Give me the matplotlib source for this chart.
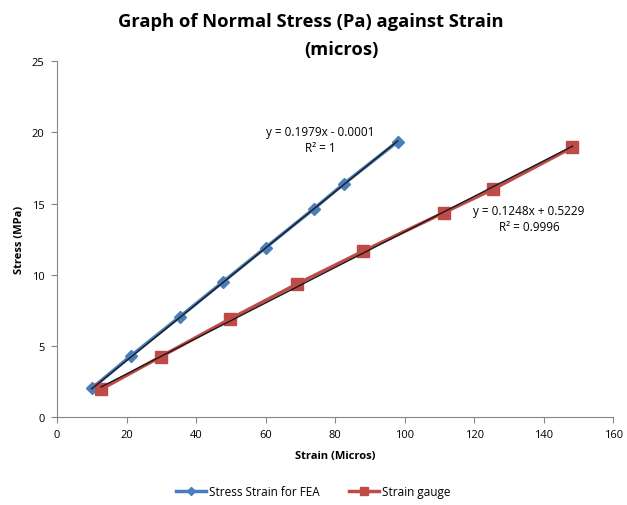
import matplotlib
matplotlib.use("Agg")
import matplotlib.pyplot as plt
import numpy as np

plt.rcParams['font.family'] = ['Open Sans', 'DejaVu Sans']

fea_x = [10, 21.3, 35.4, 47.8, 60, 74, 82.6, 98]
fea_y = [2.0, 4.3, 7.05, 9.5, 11.9, 14.65, 16.4, 19.35]
sg_x = [12.7, 29.8, 49.9, 69.1, 88.1, 111.2, 125.4, 148.3]
sg_y = [1.95, 4.23, 6.9, 9.35, 11.65, 14.35, 16.0, 18.95]
fea_fit = [0.1979, -0.0001]
sg_fit = [0.1248, 0.5229]
fea_label = "Stress Strain for FEA"
sg_label = "Strain gauge"
fea_eq = "y = 0.1979x - 0.0001\nR² = 1"
sg_eq = "y = 0.1248x + 0.5229\nR² = 0.9996"
title_lines = ["Graph of Normal Stress (Pa) against Strain", "(micros)"]

fig = plt.figure(figsize=(6.27, 5.06), dpi=100)
ax = fig.add_axes([0.0909, 0.174, 0.887, 0.703])

ax.plot(fea_x, fea_y, color='#4A7EBB', lw=2.5, marker='D', ms=6,
        markerfacecolor='#4A7EBB', markeredgecolor='#4A7EBB', label=fea_label, zorder=3)
ax.plot(sg_x, sg_y, color='#BE4B48', lw=2.5, marker='s', ms=8,
        markerfacecolor='#BE4B48', markeredgecolor='#BE4B48', label=sg_label, zorder=3)

fx = np.array([fea_x[0], fea_x[-1]])
ax.plot(fx, fea_fit[0] * fx + fea_fit[1], color='#1a1a1a', lw=1, zorder=4)
sx = np.array([sg_x[0], sg_x[-1]])
ax.plot(sx, sg_fit[0] * sx + sg_fit[1], color='#1a1a1a', lw=1, zorder=4)

ax.text(75.7, 18.5, fea_eq, ha='center', va='bottom', fontsize=8.5, linespacing=1.3)
ax.text(135.8, 12.9, sg_eq, ha='center', va='bottom', fontsize=8.5, linespacing=1.3)

ax.set_xlim(0, 160)
ax.set_ylim(0, 25)
ax.set_xticks(range(0, 161, 20))
ax.set_yticks(range(0, 26, 5))
ax.tick_params(labelsize=8, length=4, direction='out', color='#868686', pad=5)
for s in ['top', 'right']:
    ax.spines[s].set_visible(False)
for s in ['left', 'bottom']:
    ax.spines[s].set_color('#868686')

ax.set_xlabel("Strain (Micros)", fontsize=8, fontweight='bold', labelpad=7)
ax.set_ylabel("Stress (MPa)", fontsize=8, fontweight='bold', labelpad=5)

fig.text(311 / 627, 1 - 22 / 506, title_lines[0], ha='center', va='center',
         fontsize=13.2, fontweight='bold')
fig.text(341 / 627, 1 - 50 / 506, title_lines[1], ha='center', va='center',
         fontsize=13.2, fontweight='bold')

fig.legend(loc='center', bbox_to_anchor=(0.5, 1 - 493 / 506), ncol=2, frameon=False,
           fontsize=8.5, handlelength=2.5, columnspacing=2.5, markerscale=0.7,
           handletextpad=0.3)

fig.savefig("out.png", dpi=100)
